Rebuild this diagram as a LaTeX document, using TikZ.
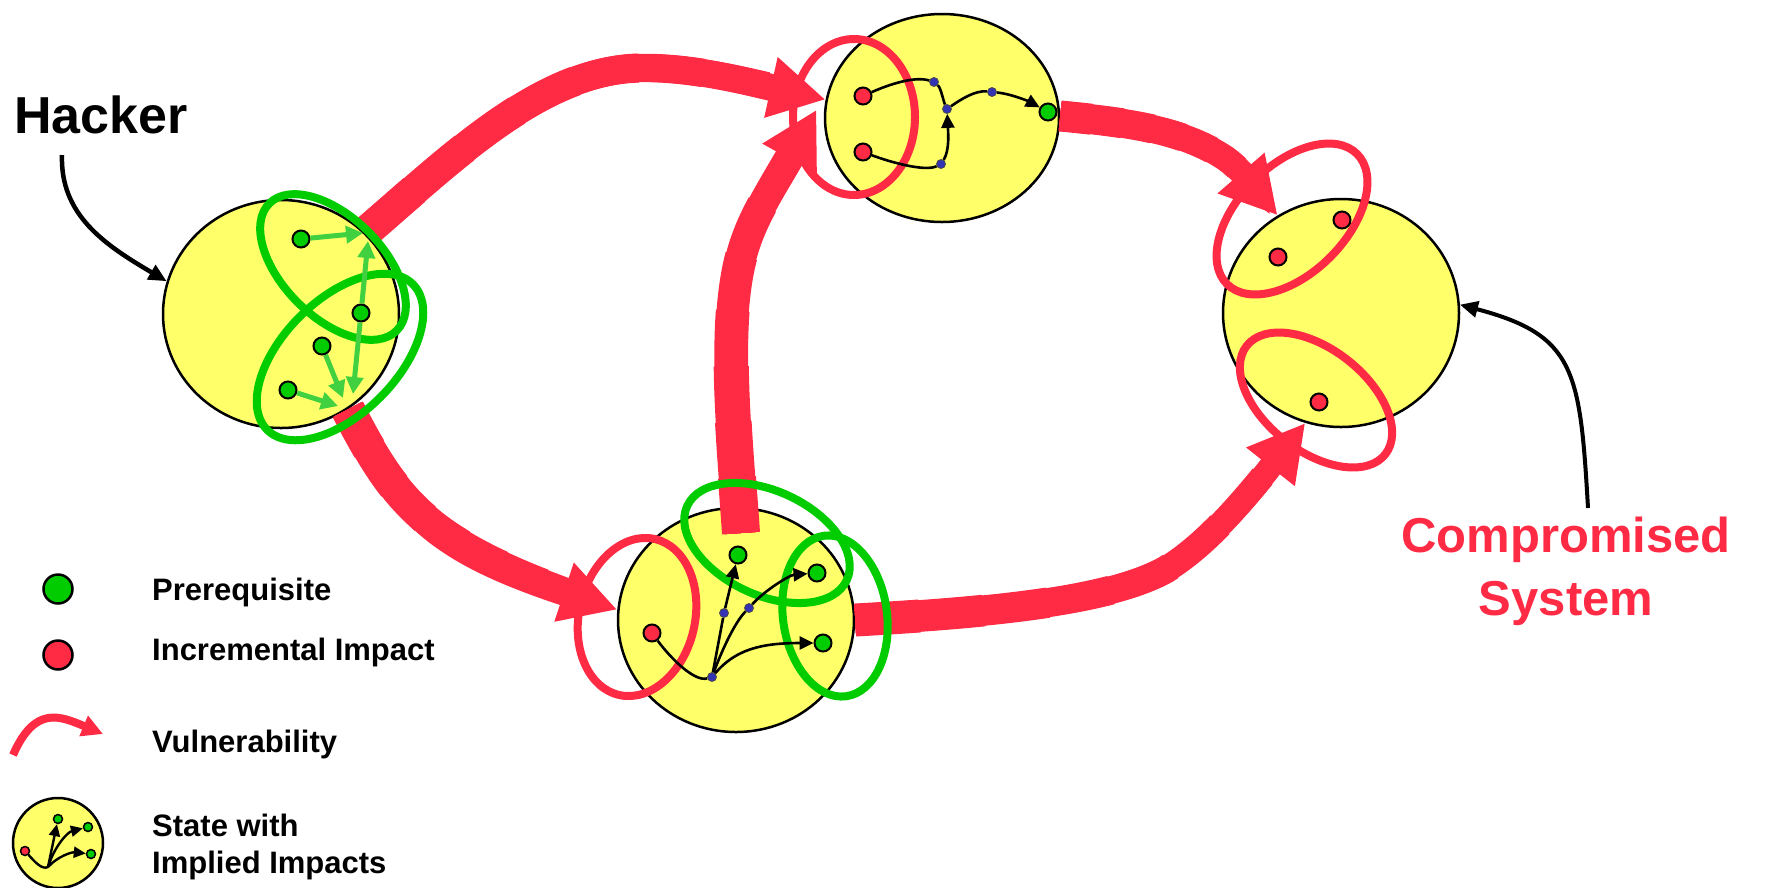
\documentclass[tikz,border=0pt]{standalone}
\usepackage{fontspec}
\setmainfont{Liberation Sans}
\usetikzlibrary{arrows.meta,shapes.geometric}
\definecolor{vred}{RGB}{255,42,68}
\definecolor{pgreen}{RGB}{0,204,0}
\definecolor{lgreen}{RGB}{64,208,64}
\definecolor{sblue}{RGB}{51,51,180}
\definecolor{syellow}{RGB}{255,255,105}
% tapered vulnerability arrow: #1 path, #2 approx length, #3 start width, #4 end width
\newcommand\taperarrow[4]{%
  \draw[vuln,line width=#4 pt] #1;
  \foreach \k in {1,...,7}{%
    \pgfmathsetmacro\tpW{#4+(#3-#4)*\k/7}%
    \pgfmathsetmacro\tpL{#2*(1-\k/8)}%
    \draw[draw=vred,line width=\tpW pt,dash pattern=on \tpL pt off 5000pt] #1;
  }%
}
\begin{document}
\begin{tikzpicture}[x=1pt,y=-1pt,
  state/.style={ellipse,draw=black,line width=2.5pt,fill=syellow,inner sep=0pt},
  dot/.style={circle,draw=black,line width=2pt,inner sep=0pt,minimum size=17pt},
  gdot/.style={dot,fill=pgreen},
  rdot/.style={dot,fill=vred},
  bdot/.style={circle,draw=black!70,line width=0.8pt,fill=sblue,inner sep=0pt,minimum size=9pt},
  vuln/.style={draw=vred,line width=30pt,-{Triangle[length=56pt,width=58pt]}},
  link/.style={draw=black,line width=2.6pt},
  linkarr/.style={link,-{Triangle[length=14pt,width=13pt]}},
  garr/.style={draw=lgreen,line width=5pt,-{Triangle[length=17pt,width=17pt]}},
  gring/.style={draw=pgreen,line width=8pt},
  rring/.style={draw=vred,line width=8pt},
  pointer/.style={draw=black,line width=4.5pt,-{Triangle[length=18pt,width=16pt]}},
  lbl/.style={font=\bfseries\fontsize{31}{37}\selectfont,anchor=base west,inner sep=0pt},
]
\useasboundingbox (0,0) rectangle (1783,887);

% states
\node[state,minimum width=236pt,minimum height=228pt] (s1) at (281,314) {};
\node[state,minimum width=234pt,minimum height=208pt] (s2) at (942,118) {};
\node[state,minimum width=236pt,minimum height=224pt] (s3) at (736,620) {};
\node[state,minimum width=236pt,minimum height=228pt] (s4) at (1341,313) {};
\node[state,minimum width=90pt,minimum height=90pt] (ls) at (58,843) {};

% labels
\node[font=\bfseries\fontsize{52}{60}\selectfont,anchor=base,inner sep=0pt] (hacker) at (101,133) {Hacker};
\node[font=\bfseries\fontsize{49}{60}\selectfont,text=vred,anchor=base,inner sep=0pt] (comp1) at (1566,552) {Compromised};
\node[font=\bfseries\fontsize{49}{60}\selectfont,text=vred,anchor=base,inner sep=0pt] (comp2) at (1566,615) {System};

% pointers
\coordinate (hk0) at (62,155);
\coordinate (cp0) at (1588,508);
\draw[pointer] (hk0) .. controls (60,215) and (105,245) .. (s1.164);
\draw[pointer,line width=4pt] (cp0) .. controls (1580,370) and (1575,335) .. (s4.4);

% vulnerabilities
\coordinate (c3s) at (741,533);
\taperarrow{(s1.44) .. controls (450,160) and (540,70) .. (640,68) .. controls (700,67) and (760,85) .. (s2.171)}{520}{32}{27}
\taperarrow{(s1.305) .. controls (400,510) and (430,548) .. (s3.175)}{360}{34}{27}
\taperarrow{(c3s) .. controls (734,430) and (722,320) .. (743,250) .. controls (755,210) and (775,185) .. ([shift={(-8,4)}]s2.174)}{445}{38}{28}
\taperarrow{(s2.1) .. controls (1120,122) and (1180,128) .. (1225,158) .. controls (1245,172) and (1260,195) .. (s4.123)}{250}{31}{24}
\taperarrow{(s3.0) .. controls (1000,612) and (1110,600) .. (1165,570) .. controls (1215,540) and (1260,480) .. (s4.252)}{516}{33}{24}

% rings
\draw[gring,rotate around={-45:(333,267)}] (333,267) ellipse [x radius=90,y radius=50];
\draw[gring,rotate around={45:(340,357)}] (340,357) ellipse [x radius=103,y radius=57];
\draw[rring] (854,117) ellipse [x radius=61,y radius=78];
\draw[rring,rotate around={-13:(637,617)}] (637,617) ellipse [x radius=58,y radius=80];
\draw[gring,rotate around={-25:(767,543)}] (767,543) ellipse [x radius=88,y radius=52];
\draw[gring,rotate around={8:(835,616)}] (835,616) ellipse [x radius=52,y radius=81];
\draw[rring,rotate around={45:(1292,219)}] (1292,219) ellipse [x radius=92,y radius=54];
\draw[rring,rotate around={-38:(1316,400)}] (1316,400) ellipse [x radius=88,y radius=51];

% state 1 dots
\node[gdot] (g11) at (301,239) {};
\node[gdot] (g12) at (361,313) {};
\node[gdot] (g13) at (322,346) {};
\node[gdot] (g14) at (288,390) {};
\coordinate (j1) at (363,233);
\coordinate (j2) at (368,241);
\coordinate (j3) at (353,394);
\coordinate (j4) at (343,398);
\coordinate (j5) at (338,406);
\draw[garr] (g11) -- (j1);
\draw[garr] (g12) -- (j2);
\draw[garr] (g12) -- (j3);
\draw[garr] (g13) -- (j4);
\draw[garr] (g14) -- (j5);

% state 2
\node[rdot] (r21) at (863,96) {};
\node[rdot] (r22) at (863,152) {};
\node[bdot] (b21) at (934,82) {};
\node[bdot] (b22) at (947,109) {};
\node[bdot] (b23) at (941,164) {};
\node[bdot] (b24) at (992,92) {};
\node[gdot] (g21) at (1048,112) {};
\draw[link] (r21) .. controls (890,84) and (915,76) .. (b21);
\draw[link] (b21) .. controls (941,88) and (943,100) .. (b22);
\draw[link] (r22) .. controls (890,162) and (925,172) .. (b23);
\draw[linkarr] (b23) .. controls (950,150) and (948,130) .. (b22);
\draw[link] (b22) .. controls (960,100) and (975,90) .. (b24);
\draw[linkarr] (b24) .. controls (1012,94) and (1030,102) .. (g21);

% state 3
\node[rdot] (r31) at (652,633) {};
\node[gdot] (g31) at (738,555) {};
\node[gdot] (g32) at (817,573) {};
\node[gdot] (g33) at (823,643) {};
\node[bdot] (h3) at (712,677) {};
\node[bdot] (b31) at (724,613) {};
\node[bdot] (b32) at (749,608) {};
\draw[link] (r31) .. controls (672,660) and (695,682) .. (h3);
\draw[link] (h3) -- (b31);
\draw[linkarr] (b31) -- (g31);
\draw[link] (h3) .. controls (722,650) and (735,622) .. (b32);
\draw[linkarr] (b32) .. controls (765,590) and (790,575) .. (g32);
\draw[linkarr] (h3) .. controls (735,650) and (760,643) .. (g33);

% state 4
\node[rdot] (r41) at (1342,220) {};
\node[rdot] (r42) at (1278,257) {};
\node[rdot] (r43) at (1319,402) {};

% legend
\node[gdot,minimum size=29pt,line width=2.5pt] (lg) at (58,589) {};
\node[rdot,minimum size=29pt,line width=2.5pt] (lr) at (58,655) {};
\coordinate (lv0) at (13,755);
\coordinate (lv1) at (103,734);
\draw[draw=vred,line width=8pt,-{Triangle[length=21pt,width=21pt]}] (lv0) .. controls (35,705) and (60,716) .. (lv1);
\node[rdot,minimum size=9pt,line width=1.5pt] (lsr) at (25,851) {};
\node[gdot,minimum size=9pt,line width=1.5pt] (lsg1) at (58,819) {};
\node[gdot,minimum size=9pt,line width=1.5pt] (lsg2) at (88,827) {};
\node[gdot,minimum size=9pt,line width=1.5pt] (lsg3) at (91,854) {};
\coordinate (lsh) at (48,867);
\draw[link,line width=2.4pt] (lsr) .. controls (35,862) and (42,870) .. (lsh);
\draw[link,line width=2.4pt,-{Triangle[length=12pt,width=11pt]}] (lsh) -- (lsg1);
\draw[link,line width=2.4pt,-{Triangle[length=12pt,width=11pt]}] (lsh) .. controls (55,845) and (68,832) .. (lsg2);
\draw[link,line width=2.4pt,-{Triangle[length=12pt,width=11pt]}] (lsh) .. controls (58,856) and (72,852) .. (lsg3);

\node[lbl] (t1) at (152,600) {Prerequisite};
\node[lbl] (t2) at (152,660) {Incremental Impact};
\node[lbl] (t3) at (152,752) {Vulnerability};
\node[lbl] (t4) at (152,836) {State with};
\node[lbl] (t5) at (152,873) {Implied Impacts};
\end{tikzpicture}
\end{document}
